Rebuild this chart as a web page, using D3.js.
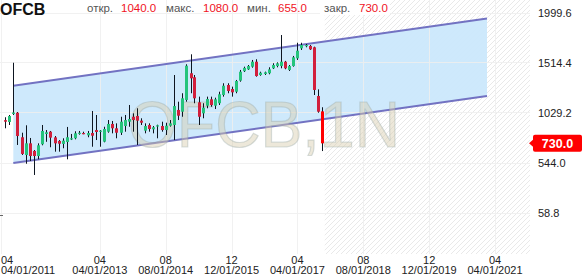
<!DOCTYPE html>
<html>
<head>
<meta charset="utf-8">
<script src="https://cdn.jsdelivr.net/npm/d3@7"></script>
<style>
  body { margin: 0; background: #fff; }
  svg { display: block; font-family: "Liberation Sans", Arial, sans-serif; }
</style>
</head>
<body>
<svg id="chart" width="586" height="278"></svg>
<script>
// monthly candles, first one is May 2011
const firstMonth = "2011-05-01";
const opens = [955, 937, 1015, 1027, 789, 617, 730, 656, 607, 721,
  821, 843, 788, 753, 724, 743, 772, 779, 827, 830,
  808, 830, 859, 847, 746, 843, 918, 876, 833, 898,
  940, 988, 995, 950, 853, 908, 866, 898, 898, 859,
  901, 908, 1054, 1037, 1151, 1410, 1371, 1128, 1021, 1095,
  1157, 1095, 1119, 1199, 1296, 1257, 1231, 1338, 1430, 1448,
  1474, 1522, 1393, 1403, 1410, 1458, 1480, 1480, 1522, 1442,
  1480, 1555, 1652, 1675, 1675, 1662, 1189, 1040];
const highs = [983, 1005, 1512, 1034, 833, 905, 782, 665, 730, 908,
  859, 850, 801, 762, 779, 889, 821, 847, 850, 843,
  850, 1044, 1005, 859, 891, 956, 947, 924, 988, 1005,
  1102, 1021, 1070, 973, 924, 924, 898, 911, 940, 930,
  956, 1393, 1134, 1216, 1497, 1594, 1393, 1183, 1119, 1183,
  1183, 1173, 1231, 1313, 1313, 1280, 1345, 1442, 1474, 1490,
  1539, 1546, 1425, 1426, 1468, 1507, 1516, 1781, 1530, 1490,
  1578, 1706, 1706, 1694, 1684, 1668, 1254, 1080];
const lows = [876, 908, 1005, 714, 617, 532, 559, 423, 575, 711,
  745, 692, 649, 649, 682, 575, 762, 769, 814, 818,
  789, 697, 762, 697, 740, 833, 827, 779, 811, 843,
  891, 843, 714, 908, 827, 843, 827, 779, 843, 811,
  892, 762, 956, 988, 1134, 1216, 1119, 908, 973, 1070,
  1085, 1063, 1102, 1183, 1216, 1183, 1216, 1328, 1422, 1442,
  1464, 1377, 1386, 1393, 1400, 1451, 1468, 1458, 1449, 1432,
  1474, 1539, 1636, 1662, 1636, 1199, 1027, 655];
const closes = [940, 995, 1029, 801, 627, 730, 607, 607, 711, 850,
  837, 785, 730, 726, 756, 789, 779, 827, 833, 824,
  830, 804, 840, 853, 869, 918, 876, 833, 940, 956,
  966, 956, 950, 930, 898, 869, 886, 905, 859, 901,
  924, 1092, 998, 1167, 1483, 1361, 1167, 988, 1076, 1160,
  1102, 1157, 1206, 1289, 1238, 1225, 1335, 1425, 1462, 1480,
  1522, 1383, 1415, 1419, 1448, 1490, 1506, 1522, 1458, 1480,
  1565, 1629, 1684, 1684, 1642, 1248, 1037, 730];

// trend channel
const channelDates = ["2011-07-01", "2021-02-01"];
const channelUpper = [1289, 1941];
const channelLower = [539, 1189];

// axes
const yTicks = [58.8, 544.0, 1029.2, 1514.4, 1999.6];
const xTicks = ["2011-04-01", "2013-04-01", "2014-08-01", "2015-12-01",
  "2017-04-01", "2018-08-01", "2019-12-01", "2021-04-01"];
const xDomain = ["2011-04-01", "2021-04-01"];
const futureStart = "2017-10-20";

const ticker = "OFCB";
const watermark = "OFCB,1N";
const headerLabels = ["откр.", "макс.", "мин.", "закр."];

const parse = d3.utcParse("%Y-%m-%d");
const plotRight = 530, plotBottom = 254;

const svg = d3.select("#chart");

const x = d3.scaleUtc()
  .domain(xDomain.map(parse))
  .range([1, 495]);

const y = d3.scaleLinear()
  .domain([yTicks[0], yTicks[yTicks.length - 1]])
  .range([212.5, 12.5]);

const months = d3.utcMonth.range(parse(firstMonth), d3.utcMonth.offset(parse(firstMonth), opens.length));
const candles = months.map((d, i) => ({
  date: d, open: opens[i], high: highs[i], low: lows[i], close: closes[i], last: i === opens.length - 1
}));

// hatch pattern for the future zone
const defs = svg.append("defs");
defs.append("pattern")
  .attr("id", "hatch")
  .attr("patternUnits", "userSpaceOnUse")
  .attr("width", 5).attr("height", 5)
  .append("path")
  .attr("d", "M-1,1 l2,-2 M0,5 l5,-5 M4,6 l2,-2")
  .attr("stroke", "#e9e9e9")
  .attr("stroke-width", 1);

svg.append("rect")
  .attr("x", x(parse(futureStart)))
  .attr("y", 0)
  .attr("width", plotRight - x(parse(futureStart)))
  .attr("height", plotBottom)
  .attr("fill", "url(#hatch)");

// channel fill
const channel = channelDates.map((d, i) => ({ date: parse(d), up: channelUpper[i], lo: channelLower[i] }));
svg.append("path")
  .datum(channel)
  .attr("fill", "#cbe8fc")
  .attr("opacity", 0.95)
  .attr("d", d3.area().x(d => x(d.date)).y0(d => y(d.lo)).y1(d => y(d.up)));

// grid
const grid = svg.append("g").attr("stroke", "#efefef").attr("stroke-width", 1).attr("opacity", 0.85);
grid.selectAll(".gx")
  .data(xTicks.map(parse))
  .join("line")
  .attr("x1", d => Math.round(x(d)) + 0.5).attr("x2", d => Math.round(x(d)) + 0.5)
  .attr("y1", 0).attr("y2", plotBottom);
grid.selectAll(".gy")
  .data(yTicks)
  .join("line")
  .attr("x1", 0).attr("x2", plotRight)
  .attr("y1", d => Math.round(y(d)) + 0.5).attr("y2", d => Math.round(y(d)) + 0.5);

// channel borders
["up", "lo"].forEach(key => {
  svg.append("path")
    .datum(channel)
    .attr("fill", "none")
    .attr("stroke", "#7272c2")
    .attr("stroke-width", 2)
    .attr("d", d3.line().x(d => x(d.date)).y(d => y(d[key])));
});

// watermark
svg.append("text")
  .attr("x", 128)
  .attr("y", 147)
  .attr("font-size", 64)
  .attr("fill", "rgba(214,204,172,0.45)")
  .attr("stroke", "rgba(150,165,165,0.35)")
  .attr("stroke-width", 1.2)
  .attr("textLength", 272)
  .attr("lengthAdjust", "spacingAndGlyphs")
  .text(watermark);

// candles
const green = "#25c47c", red = "#d21f3c";
const cg = svg.append("g");
cg.selectAll(".wick")
  .data(candles)
  .join("line")
  .attr("x1", d => Math.round(x(d.date)) + 0.5)
  .attr("x2", d => Math.round(x(d.date)) + 0.5)
  .attr("y1", d => y(d.high))
  .attr("y2", d => y(d.low))
  .attr("stroke", "#0d1520")
  .attr("stroke-width", 1);
cg.selectAll(".body")
  .data(candles)
  .join("rect")
  .attr("x", d => Math.round(x(d.date)) - 1)
  .attr("width", 3)
  .attr("y", d => y(Math.max(d.open, d.close)))
  .attr("height", d => Math.max(1.2, Math.abs(y(d.open) - y(d.close))))
  .attr("fill", d => d.last ? "#ff0000" : (d.close >= d.open ? green : red));

// left edge tick
svg.append("line")
  .attr("x1", 0).attr("x2", 3).attr("y1", 215.5).attr("y2", 215.5)
  .attr("stroke", "#666");

// y axis labels
const yAxis = svg.append("g")
  .attr("transform", "translate(538,0)")
  .call(d3.axisRight(y).tickValues(yTicks).tickSize(0).tickPadding(0).tickFormat(d3.format(".1f")));
yAxis.select(".domain").remove();
yAxis.selectAll("text")
  .attr("font-family", "'Liberation Sans', Arial, sans-serif")
  .attr("font-size", 11)
  .attr("fill", "#222");

// x axis labels: month on top, full date below
const xl = svg.append("g")
  .attr("font-size", 11)
  .attr("fill", "#222");
xl.selectAll("g")
  .data(xTicks.map(parse))
  .join("text")
  .attr("text-anchor", (d, i) => i === 0 ? "start" : "middle")
  .each(function (d, i) {
    const t = d3.select(this);
    const px = i === 0 ? 1 : x(d);
    t.append("tspan").attr("x", px).attr("y", 264).text(d3.utcFormat("%m")(d));
    t.append("tspan").attr("x", px).attr("y", 274).text(d3.utcFormat("%m/%d/%Y")(d));
  });

// header
const last = candles[candles.length - 1];
const headerValues = [last.open, last.high, last.low, last.close];
const labelX = [87, 166, 247, 324];
const valueX = [121, 203, 278, 359];
svg.append("rect")
  .attr("x", 320).attr("y", 0).attr("width", 70).attr("height", 15)
  .attr("fill", "#fff");
svg.append("text")
  .attr("x", 0).attr("y", 15)
  .attr("font-size", 16)
  .attr("font-weight", "bold")
  .attr("fill", "#111")
  .text(ticker);
const hdr = svg.append("g").attr("font-size", 11.5);
hdr.selectAll(".lab")
  .data(headerLabels)
  .join("text")
  .attr("x", (d, i) => labelX[i]).attr("y", 11.5)
  .attr("fill", "#555")
  .text(d => d);
hdr.selectAll(".val")
  .data(headerValues)
  .join("text")
  .attr("x", (d, i) => valueX[i]).attr("y", 11.5)
  .attr("fill", "#f0141e")
  .text(d => d.toFixed(1));

// current price marker
const py = y(last.close);
const marker = svg.append("g");
marker.append("path")
  .attr("d", `M529,${py} L533,${py - 3.5} L533,${py + 3.5} Z`)
  .attr("fill", "#ff0000");
marker.append("rect")
  .attr("x", 533).attr("y", py - 8.5)
  .attr("width", 49).attr("height", 17)
  .attr("rx", 2)
  .attr("fill", "#ff0000");
marker.append("text")
  .attr("x", 557.5).attr("y", py + 4.5)
  .attr("text-anchor", "middle")
  .attr("font-size", 12.5)
  .attr("font-weight", "bold")
  .attr("fill", "#fff")
  .text(last.close.toFixed(1));
</script>
</body>
</html>
